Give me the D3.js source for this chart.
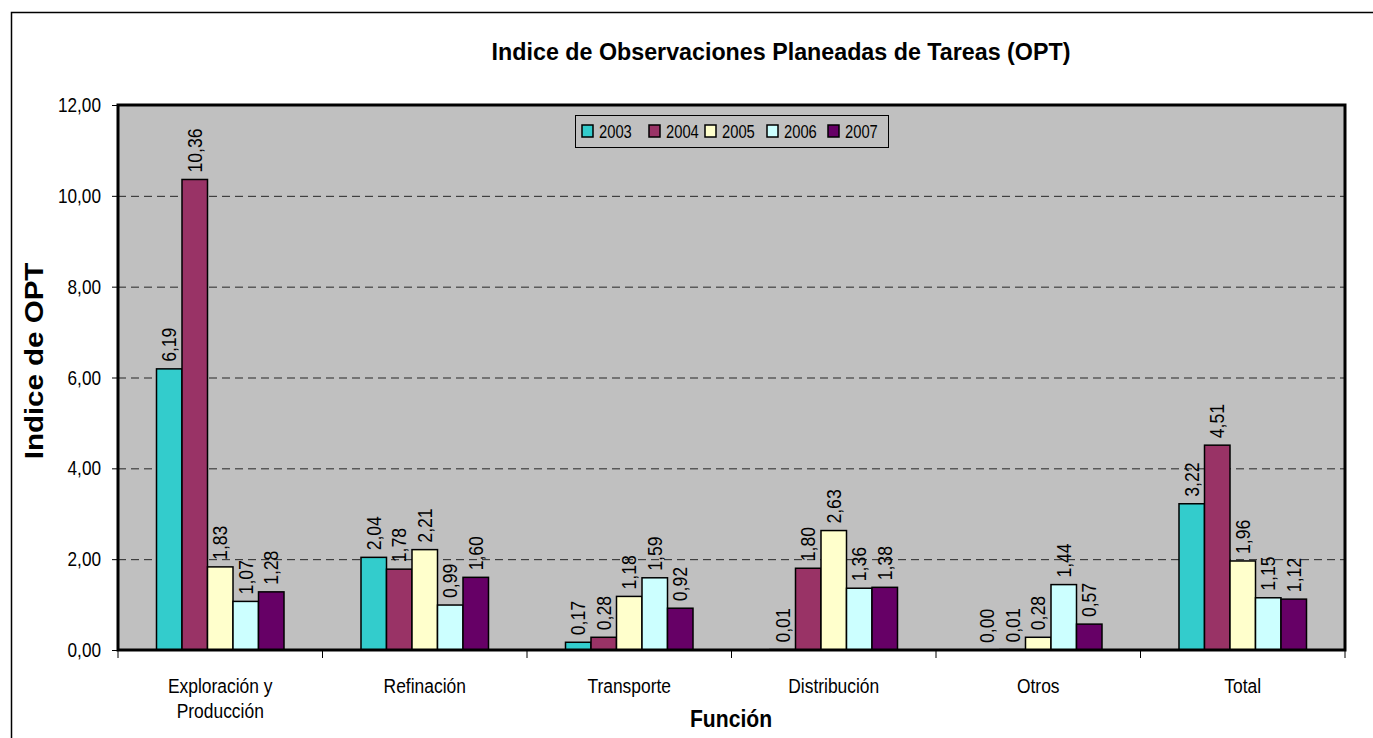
<!DOCTYPE html>
<html><head><meta charset="utf-8">
<script src="https://cdn.jsdelivr.net/npm/d3@7"></script>
<style>
body{margin:0;background:#fff;}
text{font-family:"Liberation Sans",Arial,sans-serif;fill:#000;}
</style></head>
<body>
<svg id="c" width="1373" height="738"></svg>
<script>
const categories = [["Exploración y","Producción"],["Refinación"],["Transporte"],["Distribución"],["Otros"],["Total"]];
const series = ["2003","2004","2005","2006","2007"];
const v2003 = [6.19, 2.04, 0.17, 0.01, 0.00, 3.22];
const v2004 = [10.36, 1.78, 0.28, 1.80, 0.01, 4.51];
const v2005 = [1.83, 2.21, 1.18, 2.63, 0.28, 1.96];
const v2006 = [1.07, 0.99, 1.59, 1.36, 1.44, 1.15];
const v2007 = [1.28, 1.60, 0.92, 1.38, 0.57, 1.12];
const yTicks = [0,2,4,6,8,10,12];
const colors = ["#33CCCC","#993366","#FFFFCC","#CCFFFF","#660066"];
const values = [v2003,v2004,v2005,v2006,v2007];

const svg = d3.select("#c");
const L=118, R=1345, T=105, B=650;
const fmt = d => d.toFixed(2).replace(".",",");

// narrow-text helper: position, rotation, horizontal squeeze
function txt(parent, x, y, str, o){
  const g = parent.append("g").attr("transform",`translate(${x},${y}) rotate(${o.rot||0}) scale(${o.sx||1},1)`);
  return g.append("text").attr("text-anchor",o.anchor||"start").attr("font-size",o.size)
    .attr("font-weight",o.weight||"normal").text(str);
}

// outer border
svg.append("path").attr("d","M11.5,738 V12.5 H1373").attr("fill","none").attr("stroke","#000").attr("stroke-width",1.5);

const catIdx = categories.map((c,i)=>i);
const x0 = d3.scaleBand().domain(catIdx).range([L,R]).paddingInner(0.3765).paddingOuter(0.18825);
const x1 = d3.scaleBand().domain(series).range([0,x0.bandwidth()]);
const y = d3.scaleLinear().domain([0,12]).range([B,T]);

// plot bg
svg.append("rect").attr("x",L).attr("y",T).attr("width",R-L).attr("height",B-T).attr("fill","#C0C0C0");

// grid
svg.append("g").selectAll("line").data(yTicks.filter(d=>d>0&&d<12)).join("line")
  .attr("x1",L).attr("x2",R).attr("y1",d=>y(d)+0.5).attr("y2",d=>y(d)+0.5)
  .attr("stroke","#000").attr("stroke-width",1).attr("stroke-dasharray","8,5").attr("opacity",0.8);

// y axis (tick marks)
const ya = svg.append("g").attr("transform",`translate(${L},0)`)
  .call(d3.axisLeft(y).tickValues(yTicks).tickFormat("").tickSize(6));
ya.select(".domain").remove();
ya.selectAll("line").attr("stroke","#000");
// y tick labels
yTicks.forEach(t=>{ txt(svg, 101, y(t)+7, fmt(t), {size:20, sx:0.86, anchor:"end"}); });

// bars
const g = svg.append("g");
catIdx.forEach(ci=>{
  series.forEach((s,si)=>{
    const v = values[si][ci];
    const bx = x0(ci)+x1(s);
    g.append("rect").attr("x",bx).attr("y",y(v)).attr("width",x1.bandwidth()).attr("height",B-y(v))
      .attr("fill",colors[si]).attr("stroke","#000").attr("stroke-width",1.5);
    txt(g, bx+x1.bandwidth()/2+7, y(v)-7, fmt(v), {size:20, sx:0.88, rot:-90});
  });
});

// plot border
svg.append("rect").attr("x",L).attr("y",T).attr("width",R-L).attr("height",B-T)
  .attr("fill","none").attr("stroke","#000").attr("stroke-width",3);

// x ticks at category boundaries
const bounds = catIdx.map(i=>L+(R-L)*i/categories.length).concat([R]);
svg.append("g").selectAll("line").data(bounds).join("line")
  .attr("x1",d=>d).attr("x2",d=>d).attr("y1",B).attr("y2",B+8).attr("stroke","#000").attr("stroke-width",1);

// category labels
catIdx.forEach(ci=>{
  categories[ci].forEach((line,li)=>{
    txt(svg, x0(ci)+x0.bandwidth()/2, 693+li*25, line, {size:21, sx:0.83, anchor:"middle"});
  });
});

// titles
txt(svg, 781, 60, "Indice de Observaciones Planeadas de Tareas (OPT)", {size:24, sx:0.97, weight:"bold", anchor:"middle"});
txt(svg, 731, 727, "Función", {size:24, sx:0.88, weight:"bold", anchor:"middle"});
txt(svg, 43, 361, "Indice de OPT", {size:25, sx:1.18, weight:"bold", anchor:"middle", rot:-90});

// legend
const lg = svg.append("g").attr("transform","translate(575,115)");
lg.append("rect").attr("x",0.5).attr("y",0.5).attr("width",313).attr("height",32).attr("fill","#C0C0C0").attr("stroke","#000").attr("stroke-width",1);
const lx = [7,74,130,192,253];
series.forEach((s,i)=>{
  lg.append("rect").attr("x",lx[i]).attr("y",10).attr("width",11).attr("height",12).attr("fill",colors[i]).attr("stroke","#000").attr("stroke-width",1.5);
  txt(lg, lx[i]+17, 23, s, {size:18, sx:0.82});
});
</script>
</body></html>
